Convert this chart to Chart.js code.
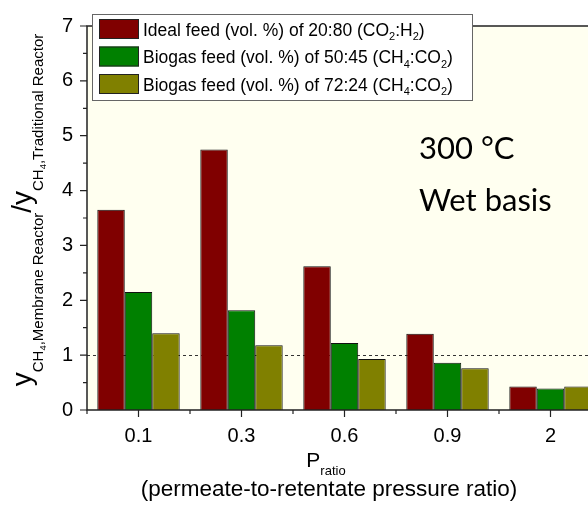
<!DOCTYPE html>
<html>
<head>
<meta charset="utf-8">
<script src="https://cdn.jsdelivr.net/npm/chart.js@4"></script>
<style>
  html, body { margin: 0; padding: 0; background: #fff; overflow: hidden; }
  #wrap { width: 620px; height: 506px; }
</style>
</head>
<body>
<div id="wrap"><canvas id="ratioChart" width="620" height="506"></canvas></div>
<script>
// P_ratio categories
const categories = ['0.1', '0.3', '0.6', '0.9', '2'];

// y_CH4 membrane / y_CH4 traditional
const idealFeed = [3.65, 4.75, 2.62, 1.39, 0.43];
const biogas5045 = [2.15, 1.82, 1.22, 0.86, 0.39];
const biogas7224 = [1.40, 1.18, 0.93, 0.76, 0.43];

const seriesColors = ['#800000', '#008000', '#808000'];

// legend text pieces: [text, isSubscript]
const legendLabels = [
    [['Ideal feed (vol. %) of 20:80 (CO', 0], ['2', 1], [':H', 0], ['2', 1], [')', 0]],
    [['Biogas feed (vol. %) of 50:45 (CH', 0], ['4', 1], [':CO', 0], ['2', 1], [')', 0]],
    [['Biogas feed (vol. %) of 72:24 (CH', 0], ['4', 1], [':CO', 0], ['2', 1], [')', 0]]
];

const FONT = '"Liberation Sans", Arial, sans-serif';

// parts: [text, size, dy]
function drawRich(ctx, parts, x, y, align) {
    let total = 0;
    parts.forEach(function(p) {
        ctx.font = p[1] + 'px ' + FONT;
        total += ctx.measureText(p[0]).width;
    });
    let cx = align === 'center' ? x - total / 2 : x;
    ctx.textAlign = 'left';
    ctx.textBaseline = 'alphabetic';
    parts.forEach(function(p) {
        ctx.font = p[1] + 'px ' + FONT;
        ctx.fillText(p[0], cx, y + p[2]);
        cx += ctx.measureText(p[0]).width;
    });
}

const decorPlugin = {
    id: 'decor',
    beforeDraw(chart) {
        const ctx = chart.ctx, a = chart.chartArea;
        ctx.save();
        ctx.fillStyle = '#fff';
        ctx.fillRect(0, 0, chart.width, chart.height);
        ctx.fillStyle = '#FFFFF0';
        ctx.fillRect(a.left, a.top, a.right - a.left, a.bottom - a.top);
        ctx.restore();
    },
    beforeDatasetsDraw(chart) {
        // reference line at ratio = 1
        const ctx = chart.ctx, a = chart.chartArea;
        const y1 = Math.round(chart.scales.y.getPixelForValue(1)) + 0.5;
        ctx.save();
        ctx.strokeStyle = '#333';
        ctx.lineWidth = 1;
        ctx.setLineDash([3, 3]);
        ctx.beginPath();
        ctx.moveTo(a.left, y1);
        ctx.lineTo(a.right, y1);
        ctx.stroke();
        ctx.restore();
    },
    afterDraw(chart) {
        const ctx = chart.ctx, a = chart.chartArea;
        const xs = chart.scales.x, ys = chart.scales.y;
        ctx.save();

        // frame + ticks
        ctx.strokeStyle = '#222';
        ctx.lineWidth = 1.5;
        ctx.beginPath();
        ctx.moveTo(a.left, a.top);
        ctx.lineTo(a.right, a.top);
        ctx.lineTo(a.right, a.bottom);
        ctx.lineTo(a.left, a.bottom);
        ctx.closePath();
        ctx.stroke();

        ctx.lineWidth = 1.2;
        ctx.beginPath();
        for (let v = 0; v <= 7; v += 0.5) {
            const py = ys.getPixelForValue(v);
            const len = Number.isInteger(v) ? 7 : 4;
            ctx.moveTo(a.left - len, py);
            ctx.lineTo(a.left, py);
        }
        categories.forEach(function(c, i) {
            const px = xs.getPixelForValue(i);
            ctx.moveTo(px, a.bottom);
            ctx.lineTo(px, a.bottom + 7);
            const half = (xs.getPixelForValue(1) - xs.getPixelForValue(0)) / 2;
            ctx.moveTo(px - half, a.bottom);
            ctx.lineTo(px - half, a.bottom + 4);
        });
        ctx.stroke();

        // legend
        ctx.fillStyle = '#fff';
        ctx.fillRect(92, 14, 380, 86);
        ctx.strokeStyle = '#666';
        ctx.lineWidth = 1;
        ctx.strokeRect(92.5, 14.5, 380, 86);
        legendLabels.forEach(function(lab, i) {
            const top = 19 + i * 27.5;
            ctx.fillStyle = seriesColors[i];
            ctx.fillRect(99, top, 40, 20);
            ctx.strokeStyle = '#222';
            ctx.strokeRect(99.5, top + 0.5, 39, 19);
            ctx.fillStyle = '#000';
            drawRich(ctx, lab.map(function(p) {
                return p[1] ? [p[0], 11, 4.5] : [p[0], 17.5, 0];
            }), 143, top + 16.5, 'left');
        });

        // annotation
        ctx.fillStyle = '#000';
        ctx.font = '31px Lato, "Open Sans", sans-serif';
        ctx.textAlign = 'left';
        ctx.textBaseline = 'alphabetic';
        ctx.fillText('300 \u00B0C', 419, 159);
        ctx.fillText('Wet basis', 419, 211);

        // x title
        drawRich(ctx, [['P', 21, 0], ['ratio', 13, 8]], 326, 467, 'center');
        drawRich(ctx, [['(permeate-to-retentate pressure ratio)', 22.5, 0]], 329, 496, 'center');

        // y title
        ctx.translate(30.5, 210);
        ctx.rotate(-Math.PI / 2);
        drawRich(ctx, [
            ['y', 28, 0], ['CH', 15, 12], ['4', 9.5, 15.5], [',Membrane Reactor', 15, 12],
            ['/', 28, 0],
            ['y', 28, 0], ['CH', 15, 12], ['4', 9.5, 15.5], [',Traditional Reactor', 15, 12]
        ], 0, 0, 'center');

        ctx.restore();
    }
};

function barSet(label, data, color) {
    return {
        label: label,
        data: data,
        backgroundColor: color,
        borderColor: '#111',
        borderWidth: 1,
        barPercentage: 1.0,
        categoryPercentage: 0.8
    };
}

new Chart(document.getElementById('ratioChart'), {
    type: 'bar',
    data: {
        labels: categories,
        datasets: [
            barSet('Ideal feed (vol. %) of 20:80 (CO2:H2)', idealFeed, seriesColors[0]),
            barSet('Biogas feed (vol. %) of 50:45 (CH4:CO2)', biogas5045, seriesColors[1]),
            barSet('Biogas feed (vol. %) of 72:24 (CH4:CO2)', biogas7224, seriesColors[2])
        ]
    },
    options: {
        responsive: false,
        animation: false,
        layout: { padding: { top: 12, right: 18, left: 0, bottom: 0 } },
        plugins: {
            legend: { display: false },
            tooltip: { enabled: false }
        },
        scales: {
            x: {
                grid: { display: false, drawTicks: false },
                border: { display: false },
                ticks: { color: '#000', font: { family: FONT, size: 20 }, padding: 14, maxRotation: 0 },
                afterFit(scale) { scale.height = 96; }
            },
            y: {
                min: 0,
                max: 7,
                grid: { display: false, drawTicks: false },
                border: { display: false },
                ticks: { stepSize: 1, color: '#000', font: { family: FONT, size: 20 }, padding: 14 },
                afterFit(scale) { scale.width = 87; }
            }
        }
    },
    plugins: [decorPlugin]
});
</script>
</body>
</html>
